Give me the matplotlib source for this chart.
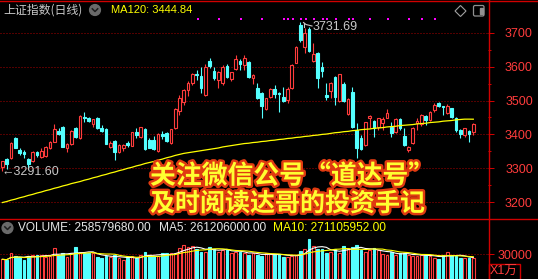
import matplotlib
matplotlib.use('Agg')
import matplotlib.pyplot as plt
import matplotlib.patheffects as pe
from matplotlib.patches import Circle, Polygon, Rectangle, FancyBboxPatch
import numpy as np
import pandas as pd

plt.rcParams['font.family'] = ['Liberation Sans', 'Noto Sans CJK SC', 'DejaVu Sans']

# ---- data (上证指数 daily candles) ----
opens = [3305, 3326, 3329, 3388, 3354, 3349, 3327, 3322, 3349, 3334,
         3335, 3359, 3379, 3410, 3422, 3359, 3372, 3418, 3388, 3452,
         3447, 3432, 3449, 3420, 3416, 3364, 3380, 3347, 3361, 3376,
         3367, 3406, 3393, 3415, 3383, 3383, 3351, 3400, 3403, 3374,
         3418, 3469, 3495, 3531, 3551, 3579, 3572, 3516, 3616, 3587,
         3560, 3551, 3603, 3563, 3592, 3618, 3605, 3614, 3567, 3538,
         3521, 3475, 3511, 3534, 3521, 3511, 3501, 3538, 3611, 3723,
         3659, 3711, 3617, 3639, 3600, 3516, 3528, 3570, 3498, 3548,
         3459, 3524, 3413, 3390, 3369, 3449, 3441, 3423, 3433, 3449,
         3423, 3406, 3445, 3396, 3354, 3374, 3433, 3430, 3454, 3442,
         3472, 3493, 3485, 3464, 3477, 3447, 3413, 3398, 3410, 3406]
highs = [3323, 3329, 3379, 3391, 3361, 3354, 3331, 3351, 3351, 3359,
         3367, 3380, 3432, 3418, 3426, 3374, 3413, 3422, 3457, 3465,
         3451, 3446, 3452, 3428, 3418, 3380, 3383, 3371, 3371, 3380,
         3408, 3418, 3423, 3418, 3390, 3395, 3403, 3410, 3406, 3417,
         3477, 3516, 3534, 3557, 3580, 3590, 3600, 3607, 3624, 3600,
         3587, 3605, 3607, 3585, 3634, 3621, 3634, 3616, 3577, 3551,
         3524, 3508, 3536, 3546, 3526, 3541, 3541, 3607, 3661, 3731.69,
         3713, 3718, 3671, 3642, 3614, 3551, 3555, 3572, 3579, 3555,
         3506, 3541, 3433, 3398, 3437, 3457, 3443, 3449, 3452, 3475,
         3437, 3447, 3447, 3418, 3367, 3423, 3447, 3459, 3457, 3469,
         3492, 3496, 3485, 3489, 3479, 3452, 3416, 3420, 3413, 3433]
lows = [3291.60, 3298, 3327, 3359, 3339, 3331, 3298, 3320, 3334, 3331,
        3333, 3357, 3377, 3398, 3362, 3347, 3369, 3389, 3386, 3437,
        3436, 3423, 3416, 3406, 3371, 3359, 3324, 3345, 3351, 3364,
        3365, 3388, 3388, 3354, 3359, 3354, 3349, 3386, 3379, 3372,
        3416, 3457, 3487, 3513, 3546, 3560, 3521, 3514, 3597, 3560,
        3536, 3546, 3567, 3557, 3590, 3590, 3590, 3565, 3548, 3504,
        3449, 3473, 3508, 3508, 3467, 3495, 3494, 3534, 3610, 3673,
        3639, 3644, 3614, 3536, 3570, 3501, 3508, 3487, 3496, 3495,
        3457, 3418, 3329, 3354, 3367, 3418, 3393, 3413, 3413, 3447,
        3393, 3403, 3413, 3367, 3347, 3371, 3413, 3426, 3428, 3439,
        3465, 3482, 3457, 3459, 3447, 3408, 3390, 3393, 3377, 3398]
closes = [3321, 3313, 3375, 3361, 3344, 3341, 3313, 3347, 3339, 3351,
          3363, 3379, 3416, 3402, 3364, 3371, 3410, 3392, 3455, 3449,
          3439, 3444, 3418, 3410, 3373, 3376, 3349, 3369, 3369, 3369,
          3406, 3398, 3421, 3357, 3361, 3356, 3400, 3396, 3380, 3415,
          3475, 3506, 3531, 3551, 3577, 3575, 3536, 3600, 3603, 3565,
          3583, 3600, 3570, 3583, 3621, 3607, 3624, 3570, 3575, 3506,
          3485, 3506, 3534, 3518, 3518, 3499, 3534, 3605, 3659, 3678,
          3698, 3646, 3636, 3567, 3587, 3511, 3551, 3511, 3577, 3498,
          3504, 3423, 3359, 3357, 3436, 3454, 3420, 3447, 3445, 3464,
          3403, 3445, 3418, 3369, 3364, 3420, 3439, 3457, 3442, 3467,
          3487, 3485, 3481, 3485, 3452, 3413, 3400, 3418, 3400, 3430]
# MA120 (yellow line)
ma120 = [3199, 3202, 3206, 3209, 3213, 3216, 3220, 3223, 3227, 3230,
         3234, 3237, 3241, 3244, 3248, 3251, 3255, 3258, 3261, 3265,
         3268, 3272, 3275, 3279, 3282, 3286, 3289, 3293, 3296, 3300,
         3303, 3307, 3310, 3314, 3317, 3320, 3324, 3327, 3331, 3334,
         3338, 3341, 3344, 3346, 3348, 3350, 3352, 3354, 3356, 3358,
         3360, 3363, 3365, 3367, 3369, 3371, 3373, 3374, 3376, 3377,
         3379, 3380, 3382, 3383, 3385, 3386, 3388, 3389, 3391, 3392,
         3394, 3395, 3397, 3398, 3400, 3401, 3403, 3405, 3406, 3408,
         3409, 3411, 3412, 3414, 3415, 3416, 3418, 3419, 3420, 3422,
         3423, 3424, 3426, 3427, 3428, 3429, 3431, 3432, 3433, 3435,
         3436, 3437, 3439, 3440, 3441, 3443, 3444, 3445, 3445, 3444.84]
# volume, x1万
volumes = [23890, 23080, 31180, 27940, 27130, 23080, 27940, 29150, 29150, 28750,
           27130, 27940, 37250, 29150, 31180, 27130, 31180, 38470, 31990, 31990,
           31180, 31180, 27130, 25100, 27940, 27130, 29150, 25910, 23080, 25100,
           27940, 25100, 29150, 32390, 29150, 27940, 27940, 31180, 31180, 31180,
           31990, 37250, 41300, 38470, 40090, 36040, 33200, 33200, 39280, 36040,
           33200, 35230, 36040, 31180, 33200, 33200, 31180, 29150, 31990, 29150,
           27940, 31180, 29960, 29960, 29960, 27130, 27130, 27940, 29150, 34010,
           36040, 48180, 40090, 36040, 36040, 31990, 33200, 36040, 31180, 40090,
           37250, 38470, 41300, 35230, 33200, 35230, 37250, 35230, 29960, 29150,
           33200, 29150, 31180, 31180, 29150, 27940, 28340, 29150, 29150, 28340,
           26000, 24000, 29000, 32500, 29000, 27700, 26000, 25500, 25500, 25858]
# candles carrying a magenta signal dot at the top
signal_idx = [45, 50, 55, 60, 65, 66, 67, 69, 70, 72, 74, 75, 77, 80, 81, 85, 89, 94, 97, 100]

price_ticks = [3200, 3300, 3400, 3500, 3600, 3700]
price_minor = [3250, 3350, 3450, 3550, 3650]
vol_ticks = [30000]

W, H = 538, 279
RED = '#ff3c3c'
FRAME = '#d00000'
GRID = '#a80000'
CYAN = '#54ffff'
YEL = '#ffff00'

fig = plt.figure(figsize=(W / 100, H / 100), dpi=100, facecolor='black')

# main price panel: pixel rows 2..218, columns 0..488
ax = fig.add_axes([0, (H - 218) / H, 488 / W, 216 / H], facecolor='black')
vax = fig.add_axes([0, 0, 488 / W, 60 / H], facecolor='black')

x = np.arange(len(closes))
o = np.array(opens, float)
c = np.array(closes, float)
h = np.array(highs, float)
l = np.array(lows, float)
up = c >= o
col = np.where(up, RED, CYAN)
top = np.maximum(o, c)
bot = np.minimum(o, c)

for lv in price_ticks:
    ax.axhline(lv, color=GRID, lw=0.72, ls=(0, (1, 2)), zorder=1)

# wicks, split so the hollow bodies stay empty
ax.vlines(x, top, h, colors=col, lw=0.8, zorder=2)
ax.vlines(x, l, bot, colors=col, lw=0.8, zorder=2)
bw = 0.62
ax.bar(x[up], (c - o)[up], bottom=o[up], width=bw, facecolor='black',
       edgecolor=RED, lw=0.8, zorder=3)
ax.bar(x[~up], (o - c)[~up], bottom=c[~up], width=bw, facecolor=CYAN,
       edgecolor=CYAN, lw=0.8, zorder=3)
ax.plot(x, ma120, color=YEL, lw=0.9, zorder=4)

sig = np.array(signal_idx)
ax.scatter(sig + 0.2, np.full(len(sig), 3739), s=1.6, marker='s', color='#ff00ff', lw=0, zorder=4)

ax.set_xlim(-0.54, 112.4)
ax.set_ylim(3153.4, 3790.6)
ax.yaxis.tick_right()
ax.set_yticks(price_ticks)
ax.set_yticks(price_minor, minor=True)
ax.set_yticklabels([str(v) for v in price_ticks])
ax.tick_params(axis='y', which='major', length=4.3, width=0.72, color=FRAME,
               labelcolor=RED, labelsize=9, pad=28)
ax.tick_params(axis='y', which='minor', length=2.2, width=0.72, color=FRAME)
for t in ax.get_yticklabels():
    t.set_ha('right')
ax.set_xticks([])
for s in ax.spines.values():
    s.set_visible(False)

# volume panel
vx = np.arange(len(volumes))
vols = np.array(volumes, float)
vax.axhline(30000, color=GRID, lw=0.72, ls=(0, (1, 2)), zorder=1)
vax.bar(vx[up], vols[up], width=bw, facecolor='black', edgecolor=RED, lw=0.8, zorder=2)
vax.bar(vx[~up], vols[~up], width=bw, facecolor=CYAN, edgecolor=CYAN, lw=0.8, zorder=2)
vs = pd.Series(vols)
vax.plot(vx, vs.rolling(5, min_periods=1).mean(), color='white', lw=0.8, zorder=3)
vax.plot(vx, vs.rolling(10, min_periods=1).mean(), color=YEL, lw=0.8, zorder=3)
vax.set_xlim(-0.54, 112.4)
vax.set_ylim(0, 72874)
vax.yaxis.tick_right()
vax.set_yticks(vol_ticks)
vax.set_yticklabels([str(v) for v in vol_ticks])
vax.tick_params(axis='y', length=4.3, width=0.72, color=FRAME, labelcolor=RED,
                labelsize=9, pad=28)
for t in vax.get_yticklabels():
    t.set_ha('right')
vax.set_xticks([])
for s in vax.spines.values():
    s.set_visible(False)

# overlay in pixel coordinates for frame, icons and captions
ov = fig.add_axes([0, 0, 1, 1])
ov.set_xlim(0, W)
ov.set_ylim(H, 0)
ov.axis('off')
ov.patch.set_alpha(0)

ov.plot([0, W], [0.5, 0.5], color=FRAME, lw=1.0)
ov.plot([488.5, 488.5], [0, H], color=FRAME, lw=1.0)
ov.plot([0, W], [218.5, 218.5], color=FRAME, lw=1.0)

ov.text(3, 10, '上证指数(日线)', color='#c8c8c8', fontsize=8.6, va='center',
        family=['Noto Sans CJK SC', 'DejaVu Sans'])
ov.add_patch(Circle((95, 10), 5.4, color='#6a6a6a'))
ov.plot([92.3, 95, 97.7], [8.8, 11.5, 8.8], color='#1e1e1e', lw=1.1)
ov.text(111, 10, 'MA120: 3444.84', color=YEL, fontsize=8, va='center')

ov.add_patch(Polygon([[460.5, 5.5], [466, 11], [460.5, 16.5], [455, 11]], closed=True,
                     fill=False, edgecolor='#a0a0a0', lw=0.8))
ov.add_patch(FancyBboxPatch((473.5, 5.5), 10.5, 10.5, boxstyle='round,pad=0,rounding_size=1.5',
                            fill=False, edgecolor='#909090', lw=0.9))
ov.add_patch(Rectangle((479.5, 7.5), 3, 6.5, color='#909090'))

# high / low annotations
ov.plot([312, 306, 303.5], [26, 24.5, 22.5], color='#c8c8c8', lw=0.8)
ov.plot([303.5, 303.5], [22.5, 27], color='#c8c8c8', lw=0.8)
ov.text(313, 27.5, '3731.69', color='#c8c8c8', fontsize=9, va='center')
ov.text(1, 172, '←3291.60', color='#c8c8c8', fontsize=9, va='center',
        family=['Liberation Sans', 'DejaVu Sans'])

# volume header
ov.add_patch(Circle((7.5, 228), 5.4, color='#6a6a6a'))
ov.plot([4.8, 7.5, 10.2], [226.8, 229.5, 226.8], color='#1e1e1e', lw=1.1)
ov.text(18, 228, 'VOLUME: 258579680.00', color='#e6e6e6', fontsize=8.6, va='center')
ov.text(159, 228, 'MA5: 261206000.00', color='#e6e6e6', fontsize=8.6, va='center')
ov.text(273, 228, 'MA10: 271105952.00', color=YEL, fontsize=8.6, va='center')

ov.add_patch(Rectangle((488.5, 263.5), 31, 16, fill=False, edgecolor=FRAME, lw=1.0))
ov.text(504, 271.5, 'X1万', color=RED, fontsize=9, ha='center', va='center')

# watermark caption
glow = [pe.withStroke(linewidth=3.5, foreground='#e03a10')]
ov.text(150, 176, '关注微信公号“道达号”', color='#ffff30', fontsize=18.6, weight='bold',
        va='center', family=['Noto Sans CJK SC'], path_effects=glow)
ov.text(150, 204, '及时阅读达哥的投资手记', color='#ffff30', fontsize=18, weight='bold',
        va='center', family=['Noto Sans CJK SC'], path_effects=glow)

fig.savefig('out.png', dpi=100, facecolor='black')
